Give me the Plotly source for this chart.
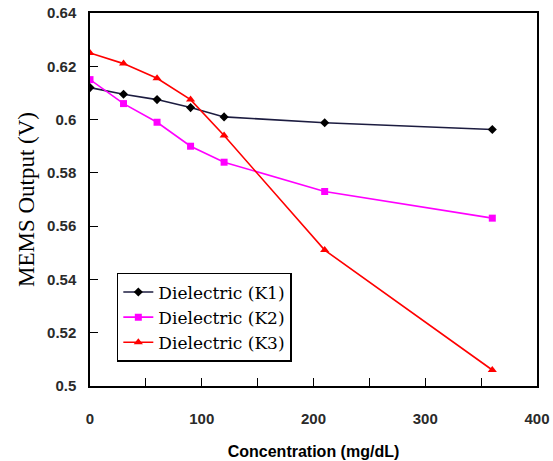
import plotly.graph_objects as go

conc = [0, 30, 60, 90, 120, 210, 360]
k1 = [0.612, 0.6095, 0.6075, 0.6045, 0.601, 0.5988, 0.5963]
k2 = [0.615, 0.606, 0.599, 0.590, 0.584, 0.573, 0.563]
k3 = [0.625, 0.621, 0.6155, 0.6075, 0.594, 0.551, 0.506]
names = ["Dielectric (K1)", "Dielectric (K2)", "Dielectric (K3)"]

fig = go.Figure()
fig.add_trace(go.Scatter(x=conc, y=k1, name=names[0], mode="lines+markers",
                         line=dict(color="#1c1c40", width=1.6),
                         marker=dict(symbol="diamond", size=7, color="black")))
fig.add_trace(go.Scatter(x=conc, y=k2, name=names[1], mode="lines+markers",
                         line=dict(color="#ff00ff", width=1.6),
                         marker=dict(symbol="square", size=7, color="#ff00ff")))
fig.add_trace(go.Scatter(x=conc, y=k3, name=names[2], mode="lines+markers",
                         line=dict(color="#ff0000", width=1.6),
                         marker=dict(symbol="triangle-up", size=8, color="#ff0000")))

tickfont = dict(family="Liberation Sans, Arial", size=15, color="#2a2a2a", weight="bold")
fig.update_layout(
    width=553, height=461,
    margin=dict(l=90, r=16, t=13, b=75),
    plot_bgcolor="white", paper_bgcolor="white",
    showlegend=True,
    legend=dict(x=0.06, y=0.303, xanchor="left", yanchor="top",
                bgcolor="white", bordercolor="black", borderwidth=1.5,
                font=dict(family="DejaVu Serif, Liberation Serif", size=17, color="black"),
                tracegroupgap=0, itemwidth=30),
    xaxis=dict(range=[0, 400], tickvals=[0, 100, 200, 300, 400],
               ticks="inside", ticklen=8, tickcolor="black", automargin=False,
               minor=dict(dtick=50, tick0=0, ticks="inside", ticklen=8, tickcolor="black"),
               showline=True, linecolor="black", linewidth=1.5, mirror=True,
               showgrid=False, zeroline=False, tickfont=tickfont,
               ticklabelstandoff=18,
               title=dict(text="Concentration (mg/dL)",
                          font=dict(family="Liberation Sans, Arial", size=16, color="black", weight="bold"),
                          standoff=20)),
    yaxis=dict(range=[0.5, 0.64], dtick=0.02, tick0=0.5,
               ticks="inside", ticklen=8, tickcolor="black", automargin=False,
               showline=True, linecolor="black", linewidth=1.5, mirror=True,
               showgrid=False, zeroline=False, tickfont=tickfont,
               tickformat="~g", ticklabelstandoff=9,
               title=dict(text="MEMS Output (V)",
                          font=dict(family="Liberation Serif, Times New Roman", size=23, color="black"),
                          standoff=6)),
)
fig.write_html("out.html", config={"displayModeBar": False},
               post_script="document.body.style.margin='0';")
